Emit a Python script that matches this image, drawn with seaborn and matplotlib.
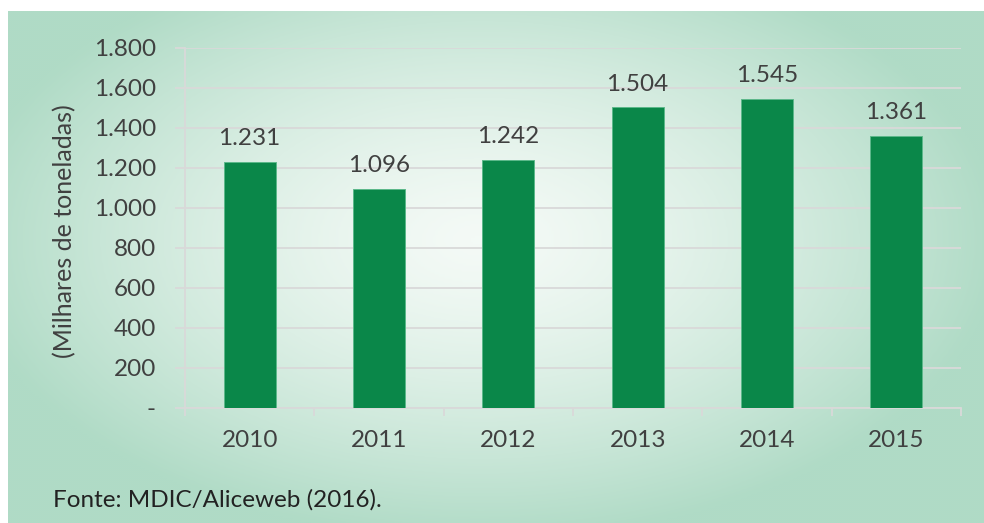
import numpy as np
import pandas as pd
import matplotlib
matplotlib.use('Agg')
import matplotlib.pyplot as plt
import seaborn as sns
from matplotlib.ticker import FuncFormatter, FixedLocator
from matplotlib.colors import LinearSegmentedColormap

# dados
anos = ['2010', '2011', '2012', '2013', '2014', '2015']
valores = [1231, 1096, 1242, 1504, 1545, 1361]
y_ticks = [0, 200, 400, 600, 800, 1000, 1200, 1400, 1600, 1800]

sns.set_theme(style='white')
plt.rcParams['font.family'] = ['Lato', 'DejaVu Sans']

TXT = '#404040'
BAR = '#0a8749'
FS = 17.5

W, H = 984, 523
fig = plt.figure(figsize=(W / 100, H / 100), dpi=100)
fig.patch.set_facecolor('white')

# fundo com gradiente radial
bg = fig.add_axes([8 / W, 0, 976 / W, 512 / H], zorder=-10)
nx, ny = 488, 256
xx, yy = np.meshgrid(np.linspace(8, 984, nx), np.linspace(11, 523, ny))
d = np.sqrt(((xx - 480) / 520) ** 2 + ((yy - 240) / 300) ** 2)
d = np.clip(d, 0, 1) ** 1.4
cmap = LinearSegmentedColormap.from_list('bg', ['#f4faf6', '#b0dbc6'])
bg.imshow(d, cmap=cmap, vmin=0, vmax=1, aspect='auto', interpolation='bilinear')
bg.axis('off')

ax = fig.add_axes([185 / W, 1 - 408 / H, 776 / W, 360 / H])
ax.set_facecolor('none')

df = pd.DataFrame({'ano': anos, 'valor': valores})
sns.barplot(data=df, x='ano', y='valor', color=BAR, saturation=1, width=0.4,
            edgecolor='#5cb88a', linewidth=0.7, ax=ax, zorder=3)

ax.set_ylim(0, 1800)
ax.set_xlim(-0.5, len(anos) - 0.5)
ax.yaxis.set_major_locator(FixedLocator(y_ticks))
ax.yaxis.set_major_formatter(FuncFormatter(
    lambda v, p: '-' if v == 0 else f'{int(v):,}'.replace(',', '.')))
ax.grid(axis='y', color='#d9d9d9', linewidth=1.3, zorder=0)
ax.set_axisbelow(True)

for s in ['top', 'right']:
    ax.spines[s].set_visible(False)
for s in ['left', 'bottom']:
    ax.spines[s].set_color('#d9d9d9')
    ax.spines[s].set_linewidth(1.3)

ax.tick_params(axis='y', which='major', length=7, width=1.3, color='#d9d9d9',
               pad=14, labelsize=FS, labelcolor=TXT, left=True)
ax.tick_params(axis='x', which='major', length=0, pad=16, labelsize=FS,
               labelcolor=TXT)
ax.set_xticks(np.arange(len(anos) + 1) - 0.5, minor=True)
ax.tick_params(axis='x', which='minor', length=6, width=1.3, color='#d9d9d9',
               bottom=True, direction='out')

for c in ax.containers:
    ax.bar_label(c, labels=[f'{v:,}'.replace(',', '.') for v in valores],
                 padding=9, fontsize=FS, color=TXT)

ax.set_xlabel('')
ax.set_ylabel('(Milhares de toneladas)', fontsize=18, color=TXT)
ax.yaxis.set_label_coords((76 - 185) / 776, 0.49)

fig.text(53 / W, 1 - 500 / H, 'Fonte: MDIC/Aliceweb (2016).', fontsize=FS,
         color='#222222', va='center', ha='left')

fig.savefig('out.png', dpi=100)
